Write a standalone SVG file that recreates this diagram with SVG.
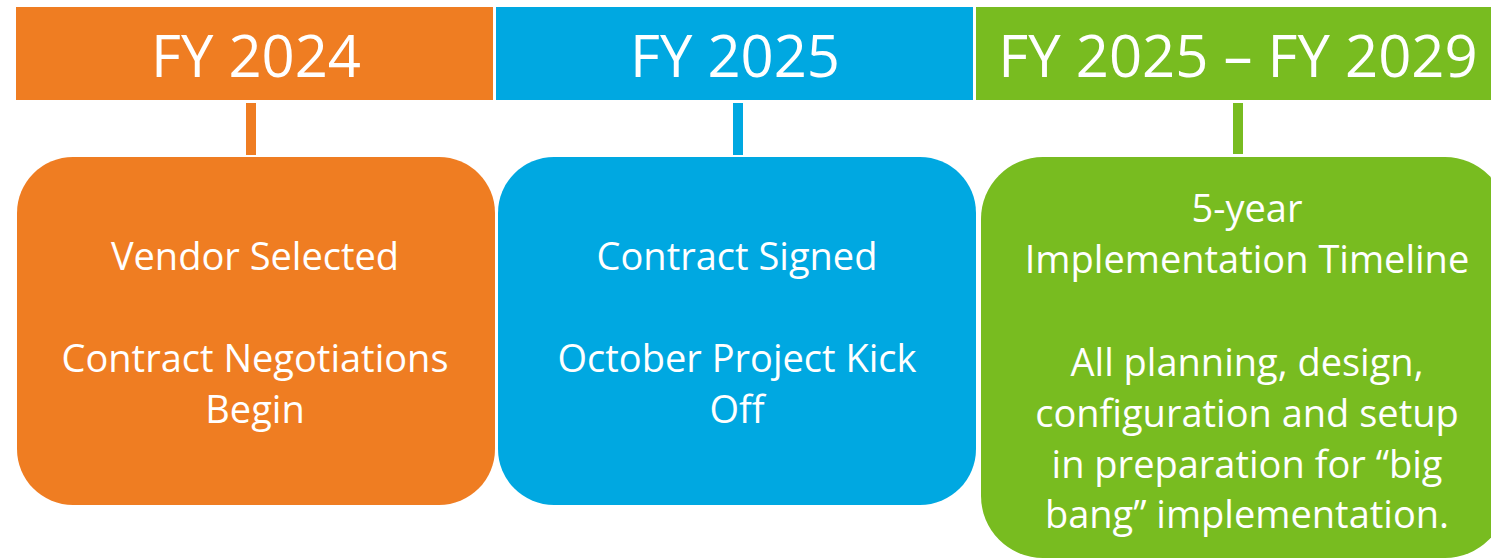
<svg xmlns="http://www.w3.org/2000/svg" width="1491" height="560" viewBox="0 0 1491 560">
  <style>
    .hdr { font-family: "Open Sans", "Noto Sans", sans-serif; font-size: 58px; fill: #ffffff; text-anchor: middle; }
    .body { font-family: "Open Sans", "Noto Sans", sans-serif; font-size: 38px; fill: #ffffff; text-anchor: middle; }
    .orange { fill: #ef7d22; }
    .blue { fill: #00a8e1; }
    .green { fill: #78bc20; }
  </style>
  <rect width="1491" height="560" fill="#ffffff"/>

  <!-- year header bands -->
  <g id="hdr-fy2024">
    <rect class="orange" x="16" y="7" width="477" height="93"/>
    <text class="hdr" x="256" y="77">FY 2024</text>
  </g>
  <g id="hdr-fy2025">
    <rect class="blue" x="496" y="7" width="477" height="93"/>
    <text class="hdr" x="735" y="77">FY 2025</text>
  </g>
  <g id="hdr-fy2025-2029">
    <rect class="green" x="976" y="7" width="530" height="93"/>
    <text class="hdr" x="1238" y="77">FY 2025 – FY 2029</text>
  </g>

  <!-- short vertical connectors from header to box -->
  <g id="connectors">
    <rect class="orange" x="246" y="103" width="10" height="52"/>
    <rect class="blue" x="733" y="103" width="10" height="52"/>
    <rect class="green" x="1233" y="103" width="10" height="51"/>
  </g>

  <!-- milestone boxes -->
  <g id="box-fy2024">
    <rect class="orange" x="17" y="157" width="478" height="348" rx="56"/>
    <text class="body" x="255" y="270">Vendor Selected</text>
    <text class="body" x="255" y="372">Contract Negotiations</text>
    <text class="body" x="255" y="423">Begin</text>
  </g>
  <g id="box-fy2025">
    <rect class="blue" x="498" y="157" width="478" height="348" rx="56"/>
    <text class="body" x="737" y="270">Contract Signed</text>
    <text class="body" x="737" y="372">October Project Kick</text>
    <text class="body" x="737" y="423">Off</text>
  </g>
  <g id="box-fy2025-2029">
    <rect class="green" x="981" y="157" width="526" height="401" rx="62"/>
    <text class="body" x="1247" y="222">5-year</text>
    <text class="body" x="1247" y="273">Implementation Timeline</text>
    <text class="body" x="1247" y="376">All planning, design,</text>
    <text class="body" x="1247" y="427">configuration and setup</text>
    <text class="body" x="1247" y="478">in preparation for “big</text>
    <text class="body" x="1247" y="528">bang” implementation.</text>
  </g>
</svg>
